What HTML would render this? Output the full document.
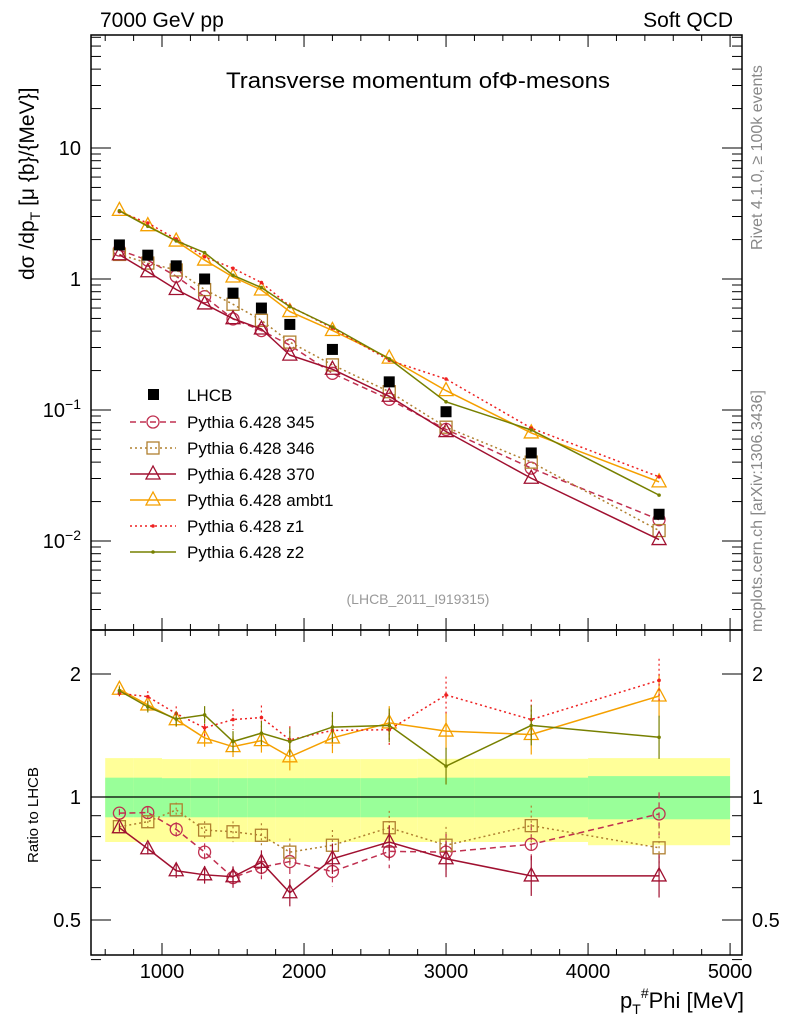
<!DOCTYPE html>
<html><head><meta charset="utf-8"><style>
body{margin:0;background:#fff;}
svg text{font-family:"Liberation Sans",sans-serif;}
</style></head><body>
<svg id="c" width="786" height="1024" xmlns="http://www.w3.org/2000/svg"></svg>
<script>
const xs=[700,900,1100,1300,1500,1700,1900,2200,2600,3000,3600,4500];
const lhcb=[1.82,1.52,1.26,1.0,0.78,0.60,0.45,0.29,0.164,0.097,0.047,0.016];
const r345=[0.913,0.916,0.833,0.733,0.635,0.673,0.695,0.657,0.736,0.733,0.766,0.909];
const r346=[0.846,0.870,0.930,0.830,0.822,0.806,0.733,0.762,0.841,0.762,0.851,0.751];
const r370=[0.841,0.747,0.660,0.645,0.638,0.692,0.583,0.706,0.776,0.706,0.641,0.641];
const rambt1=[1.835,1.68,1.546,1.395,1.328,1.374,1.254,1.395,1.518,1.45,1.422,1.767];
const rz1=[1.794,1.76,1.60,1.477,1.547,1.565,1.38,1.455,1.461,1.777,1.547,1.93];
const rz2=[1.82,1.662,1.552,1.588,1.367,1.433,1.367,1.483,1.497,1.19,1.497,1.40];
const bandEdges=[600,800,1000,1200,1400,1600,1800,2000,2400,2800,3200,4000,5000];
const yellowLo=[0.776,0.776,0.776,0.776,0.776,0.776,0.776,0.776,0.776,0.776,0.776,0.762];
const yellowHi=[1.245,1.245,1.238,1.238,1.238,1.238,1.238,1.238,1.238,1.24,1.24,1.245];
const greenLo=[0.892,0.892,0.892,0.892,0.892,0.892,0.892,0.892,0.892,0.892,0.892,0.882];
const greenHi=[1.115,1.115,1.112,1.112,1.112,1.112,1.112,1.112,1.112,1.115,1.115,1.125];
const xTicks=[1000,2000,3000,4000,5000];
const yTicks=[10,1,0.1,0.01];
const rTicks=[0.5,1,2];

const svg=document.getElementById('c');
const NS='http://www.w3.org/2000/svg';
function el(t,a,p){const e=document.createElementNS(NS,t);for(const k in a)e.setAttribute(k,a[k]);(p||svg).appendChild(e);return e;}
const L=91,R=742,T1=35,B1=630,T2=630,B2=955;
const X=v=>L+(v-500)/(5084-500)*(R-L);
const Y=v=>279-131*Math.log10(v);
const YR=v=>797-408.6*Math.log10(v);

for(let i=0;i<yellowLo.length;i++){
 const x0=X(bandEdges[i]),x1=X(bandEdges[i+1]);
 const y=el('rect',{x:x0,y:YR(yellowHi[i]),width:x1-x0,height:YR(yellowLo[i])-YR(yellowHi[i]),fill:'#ffff99'});
 
 const g=el('rect',{x:x0,y:YR(greenHi[i]),width:x1-x0,height:YR(greenLo[i])-YR(greenHi[i]),fill:'#99ff99'});
 
}
el('line',{x1:L,x2:R,y1:YR(1),y2:YR(1),stroke:'#000','stroke-width':1.3});

el('rect',{x:L,y:T1,width:R-L,height:B1-T1,fill:'none',stroke:'#000','stroke-width':1.5,});
el('rect',{x:L,y:T2,width:R-L,height:B2-T2,fill:'none',stroke:'#000','stroke-width':1.5,});

for(let v=600;v<=5000;v+=200){
 const big=v%1000===0, x=X(v);
 for(const [yt,yb] of [[T1,B1],[T2,B2]]){
  el('line',{x1:x,x2:x,y1:yb,y2:yb-(big?12:6),stroke:'#000'});
  el('line',{x1:x,x2:x,y1:yt,y2:yt+(big?12:6),stroke:'#000'});
 }
}
xTicks.forEach(v=>{const t=el('text',{x:X(v),y:978,'font-size':20,'text-anchor':'middle'});t.textContent=v;
 });
for(let d=-3;d<=1;d++)for(let m=1;m<10;m++){const v=m*Math.pow(10,d),y=Y(v);if(y<T1||y>B1)continue;
 const len=m===1?20:10;el('line',{x1:L,x2:L+len,y1:y,y2:y,stroke:'#000'});el('line',{x1:R,x2:R-len,y1:y,y2:y,stroke:'#000'});}
yTicks.forEach(v=>{const t=el('text',{x:L-10,y:Y(v)+7,'font-size':20,'text-anchor':'end'});
 if(v===10)t.textContent='10';else if(v===1)t.textContent='1';else{t.textContent='10';const s=el('tspan',{dy:-8,'font-size':14},t);s.textContent=v===0.1?'−1':'−2';}
 });
[0.4,0.5,0.6,0.7,0.8,0.9,1,2].forEach(v=>{const y=YR(v);const len=(v===0.5||v===1||v===2)?20:10;
 el('line',{x1:L,x2:L+len,y1:y,y2:y,stroke:'#000'});el('line',{x1:R,x2:R-len,y1:y,y2:y,stroke:'#000'});});
rTicks.forEach(v=>{for(const [x,a] of [[L-10,'end'],[R+10,'start']]){const t=el('text',{x:x,y:YR(v)+7,'font-size':20,'text-anchor':a});t.textContent=v;
 }});

const series=[
 {r:r345,c:'#c03050',dash:'6,4',m:'circle',name:'Pythia 6.428 345'},
 {r:r346,c:'#b08030',dash:'2,3',m:'square',name:'Pythia 6.428 346'},
 {r:r370,c:'#a01030',dash:'',m:'tri',name:'Pythia 6.428 370'},
 {r:rambt1,c:'#f5a000',dash:'',m:'tri',name:'Pythia 6.428 ambt1'},
 {r:rz1,c:'#ee2020',dash:'2,3',m:'dot',name:'Pythia 6.428 z1'},
 {r:rz2,c:'#778000',dash:'',m:'dot',name:'Pythia 6.428 z2'}];
function marker(m,x,y,c){
 const a={fill:'none',stroke:c,'stroke-width':1.3};
 if(m==='circle')return el('circle',Object.assign({cx:x,cy:y,r:6},a));
 if(m==='square')return el('rect',Object.assign({x:x-6,y:y-6,width:12,height:12},a));
 if(m==='tri')return el('polygon',Object.assign({points:`${x},${y-8} ${x-7},${y+5} ${x+7},${y+5}`},a));
 return el('circle',{cx:x,cy:y,r:1.8,fill:c});
}
series.forEach((s,si)=>{
 const top=xs.map((x,i)=>[X(x),Y(s.r[i]*lhcb[i])]);
 const bot=xs.map((x,i)=>[X(x),YR(s.r[i])]);
 for(const pts of [top,bot]){
  const p=el('polyline',{points:pts.map(p=>p.join(',')).join(' '),fill:'none',stroke:s.c,'stroke-width':1.5,'stroke-dasharray':s.dash});
  
  pts.forEach(q=>{const mk=marker(s.m,q[0],q[1],s.c);});
 }
 bot.forEach((q,i)=>{const e=4+i*1.6;el('line',{x1:q[0],x2:q[0],y1:q[1]-e,y2:q[1]+e,stroke:s.c,'stroke-width':1.2,'stroke-dasharray':s.dash});});
 const ly=422+si*26;
 const ll=el('line',{x1:130,x2:176,y1:ly,y2:ly,stroke:s.c,'stroke-width':1.5,'stroke-dasharray':s.dash});
 
 marker(s.m,153,ly,s.c);
 const lt=el('text',{x:187,y:ly+6,'font-size':17});lt.textContent=s.name;
 
});
xs.forEach((x,i)=>{const r=el('rect',{x:X(x)-5.5,y:Y(lhcb[i])-5.5,width:11,height:11,fill:'#000'});
 });
el('rect',{x:148,y:389,width:11,height:11,fill:'#000'});
const lt=el('text',{x:187,y:401,'font-size':17});lt.textContent='LHCB';


function txt(s,a,name){const t=el('text',a);t.textContent=s;return t;}
txt('7000 GeV pp',{x:100,y:27,'font-size':21},'beam-label');
txt('Soft QCD',{x:733,y:27,'font-size':21,'text-anchor':'end'},'process-label');
txt('Transverse momentum of\u03A6-mesons',{x:226,y:88,'font-size':22,textLength:384,lengthAdjust:'spacingAndGlyphs'},'plot-title');
txt('(LHCB_2011_I919315)',{x:418,y:604,'font-size':14,'text-anchor':'middle',fill:'#999'},'analysis-id');
txt('Rivet 4.1.0, \u2265 100k events',{x:0,y:0,'font-size':16,fill:'#888',transform:'translate(762,250) rotate(-90)'},'rivet-label');
txt('mcplots.cern.ch [arXiv:1306.3436]',{x:0,y:0,'font-size':16,fill:'#888',transform:'translate(762,632) rotate(-90)'},'mcplots-label');
const yt=txt('',{x:0,y:0,'font-size':21,transform:'translate(34,280) rotate(-90)'},'y-axis-title');
yt.innerHTML='d\u03C3 /dp<tspan dy="6" font-size="14">T</tspan><tspan dy="-6"> [\u03BC {b}/{MeV}]</tspan>';
txt('Ratio to LHCB',{x:0,y:0,'font-size':15,transform:'translate(38,863) rotate(-90)'},'ratio-axis-title');
const xt=txt('',{x:744,y:1008,'font-size':22,'text-anchor':'end'},'x-axis-title');
xt.innerHTML='p<tspan dy="6" font-size="14">T</tspan><tspan dy="-16" font-size="14">#</tspan><tspan dy="10">Phi [MeV]</tspan>';
</script>
</body></html>
